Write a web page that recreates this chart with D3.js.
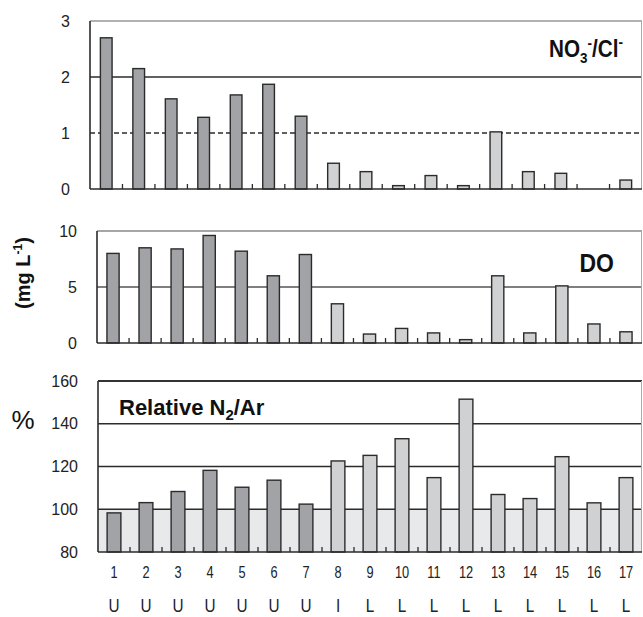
<!DOCTYPE html>
<html>
<head>
<meta charset="utf-8">
<script src="https://cdn.jsdelivr.net/npm/d3@7"></script>
<style>
body { margin: 0; background: #fff; }
svg { display: block; }
</style>
</head>
<body>
<script>
// site numbers, site type and the three measured series
var sites = ["1", "2", "3", "4", "5", "6", "7", "8", "9", "10", "11", "12",
    "13", "14", "15", "16", "17"];
var siteTypes = ["U", "U", "U", "U", "U", "U", "U", "I", "L", "L", "L", "L",
    "L", "L", "L", "L", "L"];
var no3cl = [2.70, 2.15, 1.61, 1.28, 1.68, 1.87, 1.30, 0.46, 0.31, 0.06,
    0.24, 0.06, 1.02, 0.31, 0.28, 0, 0.16];
var doVals = [8.0, 8.5, 8.4, 9.6, 8.2, 6.0, 7.9, 3.5, 0.8, 1.3, 0.9, 0.3,
    6.0, 0.9, 5.1, 1.7, 1.0];
var n2ar = [98.3, 103.1, 108.3, 118.2, 110.3, 113.6, 102.4, 122.6, 125.2,
    133.0, 114.8, 151.5, 106.9, 105.0, 124.6, 103.0, 114.8];

var no3Ticks = [0, 1, 2, 3];
var doTicks = [0, 5, 10];
var n2Ticks = [80, 100, 120, 140, 160];

var W = 643, H = 617;
var darkFill = "#a2a3a7", lightFill = "#d0d1d3", ink = "#2b2b2b";
var numFont = "'Liberation Sans', Arial, sans-serif";

var svg = d3.select("body").append("svg")
    .attr("width", W)
    .attr("height", H);

var panels = [
    {vals: no3cl, ticks: no3Ticks, x0: 90, x1: 642, top: 21, bot: 189,
        pad: 0.64, topLine: "#999"},
    {vals: doVals, ticks: doTicks, x0: 97, x1: 642, top: 231, bot: 343,
        pad: 0.62, topLine: "#888"},
    {vals: n2ar, ticks: n2Ticks, x0: 98, x1: 642, top: 381, bot: 552,
        pad: 0.57, topLine: "#333"}
];

panels.forEach(function(p, pi) {
    var x = d3.scaleBand()
        .domain(sites)
        .range([p.x0, p.x1])
        .paddingInner(p.pad)
        .paddingOuter(p.pad / 2);
    var y = d3.scaleLinear()
        .domain(d3.extent(p.ticks))
        .range([p.bot, p.top]);
    p.x = x;
    p.y = y;
    var g = svg.append("g");
    var lo = p.ticks[0];

    // shaded band below 100 % in the N2/Ar panel
    if (pi === 2) {
        g.append("rect")
            .attr("x", p.x0).attr("y", y(100))
            .attr("width", p.x1 - p.x0).attr("height", y(80) - y(100))
            .attr("fill", "#e8e9eb");
    }

    // gridlines
    var inner = p.ticks.slice(1, -1);
    g.selectAll("line.grid").data(inner).enter().append("line")
        .attr("x1", p.x0).attr("x2", p.x1)
        .attr("y1", function(d) { return y(d); })
        .attr("y2", function(d) { return y(d); })
        .attr("stroke", pi === 1 ? "#555" : ink)
        .attr("stroke-width", 1.3)
        .attr("stroke-dasharray", function(d) {
            return (pi === 0 && d === 1) ? "5,3" : null;
        });

    // top and right frame
    g.append("line")
        .attr("x1", p.x0).attr("x2", p.x1)
        .attr("y1", p.top).attr("y2", p.top)
        .attr("stroke", p.topLine).attr("stroke-width", pi === 2 ? 2 : 1.5);
    g.append("line")
        .attr("x1", p.x1 - 0.5).attr("x2", p.x1 - 0.5)
        .attr("y1", p.top).attr("y2", p.bot)
        .attr("stroke", "#aaa").attr("stroke-width", 1);

    // bars
    var rows = p.vals.map(function(v, i) { return {site: sites[i], v: v, i: i}; })
        .filter(function(d) { return d.v > lo; });
    g.selectAll("rect.bar").data(rows).enter().append("rect")
        .attr("x", function(d) { return x(d.site); })
        .attr("y", function(d) { return y(d.v); })
        .attr("width", x.bandwidth())
        .attr("height", function(d) { return y(lo) - y(d.v); })
        .attr("fill", function(d) { return d.i < 7 ? darkFill : lightFill; })
        .attr("stroke", ink)
        .attr("stroke-width", 1.4);

    // small inward ticks between sites
    var step = x.step();
    g.selectAll("line.tk").data(sites.slice(1)).enter().append("line")
        .attr("x1", function(d) { return x(d) - x.paddingInner() * step / 2; })
        .attr("x2", function(d) { return x(d) - x.paddingInner() * step / 2; })
        .attr("y1", p.bot).attr("y2", p.bot - 5)
        .attr("stroke", ink).attr("stroke-width", 1.3);

    // axes lines
    g.append("line")
        .attr("x1", p.x0).attr("x2", p.x1)
        .attr("y1", p.bot).attr("y2", p.bot)
        .attr("stroke", ink).attr("stroke-width", 1.6);
    g.append("line")
        .attr("x1", p.x0).attr("x2", p.x0)
        .attr("y1", p.top).attr("y2", p.bot)
        .attr("stroke", ink).attr("stroke-width", 1.6);

    // tick labels
    var ax = svg.append("g")
        .attr("transform", "translate(" + (p.x0 - 17) + ",0)")
        .call(d3.axisLeft(y).tickValues(p.ticks).tickSize(0)
            .tickFormat(d3.format("d")));
    ax.select(".domain").remove();
    ax.selectAll("text")
        .attr("font-family", numFont)
        .attr("font-size", 16)
        .attr("fill", "#222");
});

// panel titles (condensed look via horizontal scale)
var t1 = svg.append("text")
    .attr("transform", "translate(623,57) scale(0.9,1)")
    .attr("text-anchor", "end")
    .attr("font-family", numFont)
    .attr("font-weight", "bold")
    .attr("font-size", 23)
    .attr("fill", "#111");
t1.append("tspan").text("NO");
t1.append("tspan").text("3").attr("font-size", 15).attr("dy", 6);
t1.append("tspan").text("-").attr("font-size", 15).attr("dy", -15);
t1.append("tspan").text("/Cl").attr("dy", 9);
t1.append("tspan").text("-").attr("font-size", 15).attr("dy", -10);

svg.append("text")
    .attr("transform", "translate(614,272) scale(0.92,1)")
    .attr("text-anchor", "end")
    .attr("font-family", numFont)
    .attr("font-weight", "bold")
    .attr("font-size", 25)
    .attr("fill", "#111")
    .text("DO");

var t3 = svg.append("text")
    .attr("x", 119).attr("y", 415)
    .attr("font-family", numFont)
    .attr("font-weight", "bold")
    .attr("font-size", 22)
    .attr("fill", "#111");
t3.append("tspan").text("Relative N");
t3.append("tspan").text("2").attr("font-size", 15).attr("dy", 5);
t3.append("tspan").text("/Ar").attr("dy", -5);

// y axis units
var u = svg.append("text")
    .attr("transform", "translate(30,273) rotate(-90)")
    .attr("text-anchor", "middle")
    .attr("font-family", numFont)
    .attr("font-weight", "bold")
    .attr("font-size", 20)
    .attr("fill", "#111");
u.append("tspan").text("(mg L");
u.append("tspan").text("-1").attr("font-size", 12).attr("dy", -8);
u.append("tspan").text(")").attr("dy", 8);

svg.append("text")
    .attr("x", 23).attr("y", 429)
    .attr("text-anchor", "middle")
    .attr("font-family", numFont)
    .attr("font-size", 26)
    .attr("fill", "#111")
    .text("%");

// site numbers and types under the bottom panel
var xb = panels[2].x;
function midX(s) { return xb(s) + xb.bandwidth() / 2; }

svg.append("g").selectAll("text").data(sites).enter().append("text")
    .attr("transform", function(d) {
        return "translate(" + midX(d) + ",578) scale(0.8,1)";
    })
    .attr("text-anchor", "middle")
    .attr("font-family", numFont)
    .attr("font-size", 16)
    .attr("fill", "#222")
    .text(function(d) { return d; });

svg.append("g").selectAll("text").data(siteTypes).enter().append("text")
    .attr("transform", function(d, i) {
        return "translate(" + midX(sites[i]) + ",612) scale(0.85,1)";
    })
    .attr("text-anchor", "middle")
    .attr("font-family", numFont)
    .attr("font-size", 18)
    .attr("fill", "#222")
    .text(function(d) { return d; });
</script>
</body>
</html>
